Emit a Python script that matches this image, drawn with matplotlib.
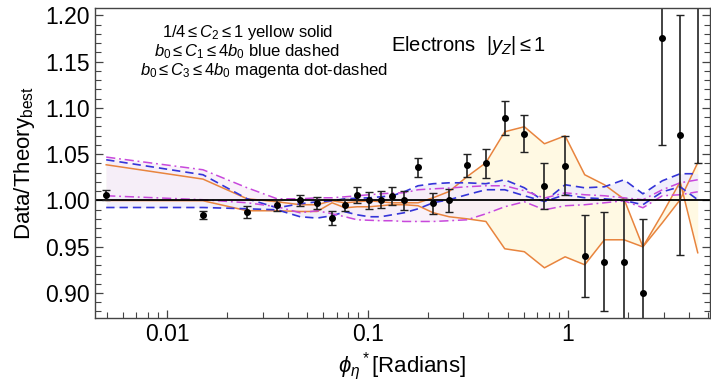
import numpy as np
import matplotlib.pyplot as plt
from matplotlib.ticker import FixedLocator, MultipleLocator, NullFormatter

plt.rcParams['font.family'] = ['Liberation Sans', 'DejaVu Sans']
plt.rcParams['mathtext.fontset'] = 'custom'
plt.rcParams['mathtext.rm'] = 'Liberation Sans'
plt.rcParams['mathtext.it'] = 'Liberation Sans:italic'

# bin centres (radians)
phi = [0.00497, 0.0151, 0.0251, 0.0354, 0.0461, 0.0560, 0.0665, 0.0772, 0.0887,
       0.1018, 0.1164, 0.1325, 0.152, 0.1786, 0.212, 0.255, 0.3126, 0.389, 0.483,
       0.605, 0.762, 0.966, 1.21, 1.517, 1.90, 2.36, 2.95, 3.62, 4.43]

# data / theory with errors
ratio = [1.006, 0.9845, 0.9875, 0.9946, 1.000, 0.997, 0.981, 0.995, 1.006,
         1.000, 1.001, 1.005, 1.000, 1.0357, 0.9968, 1.000, 1.038, 1.040, 1.089,
         1.072, 1.016, 1.0375, 0.940, 0.934, 0.934, 0.900, 1.1755, 1.071, 1.26]
err = [0.005, 0.0045, 0.006, 0.0055, 0.006, 0.0067, 0.008, 0.0063, 0.009,
       0.009, 0.0095, 0.0097, 0.0104, 0.0106, 0.011, 0.012, 0.0126, 0.0157, 0.018,
       0.020, 0.025, 0.032, 0.044, 0.053, 0.068, 0.080, 0.115, 0.13, 0.22]

# C2 variation (yellow solid)
c2_a = [1.0386, 1.0231, 1.0018, 0.9986, 0.9954, 0.9954, 0.9997, 0.9975, 0.9986,
        0.9997, 0.9986, 0.9975, 0.9975, 0.9975, 1.0029, 1.0097, 1.0256, 1.0408, 1.0743,
        1.0797, 1.0613, 1.0699, 1.0278, 1.0170, 1.0015, 0.9499, 0.9856, 1.0202, 0.9435]
c2_b = [1.000, 0.9997, 0.9889, 0.9889, 0.9881, 0.9881, 0.9975, 0.9921, 0.9932,
        0.9932, 0.9943, 0.9954, 0.9954, 0.9943, 0.9868, 0.9824, 0.9802, 0.9773, 0.9478,
        0.9446, 0.9272, 0.9391, 0.9305, 0.9575, 0.9575, 0.9499, 0.9759, 1.0008, 1.0408]

# C1 variation (blue dashed)
c1_a = [1.0440, 1.0278, 1.0018, 0.9921, 0.9964, 0.9986, 0.9997, 1.0018, 1.0024,
        1.0029, 1.0040, 1.0051, 1.0094, 1.0159, 1.0181, 1.0191, 1.0191, 1.0181, 1.0224,
        1.0137, 0.9989, 1.0170, 1.0137, 1.0148, 1.0224, 1.0072, 1.0213, 1.0289, 1.0289]
c1_b = [0.9924, 0.9924, 0.9910, 0.9899, 0.9824, 0.9810, 0.9835, 0.9878, 0.9845,
        0.9824, 0.9824, 0.9845, 0.9867, 0.9910, 0.9975, 1.0008, 1.0062, 1.0116, 1.0116,
        1.0051, 0.9989, 1.0062, 1.0029, 1.0018, 1.0000, 0.9954, 1.0094, 1.0148, 1.0008]

# C3 variation (magenta dot-dashed)
c3_a = [1.0469, 1.0332, 1.0137, 1.0018, 1.0018, 1.0029, 1.0029, 1.0040, 1.0051,
        1.0062, 1.0072, 1.0080, 1.0083, 1.0116, 1.0126, 1.0134, 1.0148, 1.0159, 1.0159,
        1.0105, 1.0026, 1.0083, 1.0062, 1.0051, 1.0029, 1.0008, 1.0116, 1.0191, 1.0224]
c3_b = [1.0051, 1.0008, 0.9975, 0.9932, 0.9867, 0.9889, 0.9856, 0.9824, 0.9791,
        0.9786, 0.9781, 0.9781, 0.9773, 0.9773, 0.9773, 0.9781, 0.9791, 0.9856, 0.9932,
        0.9986, 0.9899, 0.9943, 0.9954, 0.9975, 0.9997, 0.9921, 1.0051, 1.0062, 1.0094]

fig = plt.figure(figsize=(7.11, 3.84), dpi=100)
ax = fig.add_axes([0.1336, 0.172, 0.865, 0.807])

orange = '#e8843e'
blue = '#3434d8'
magenta = '#c848dc'

# yellow band first, the others painted over it
ax.fill_between(phi, c2_a, c2_b, color='#fff8dc', alpha=0.8, lw=0)
ax.fill_between(phi, c1_a, c1_b, color='#f0eefb', alpha=0.9, lw=0)
ax.fill_between(phi, c3_a, c3_b, color='#f8eef8', alpha=0.8, lw=0)

ax.plot(phi, c2_a, color=orange, lw=1.1)
ax.plot(phi, c2_b, color=orange, lw=1.1)
ax.plot(phi, c1_a, color=blue, lw=1.2, dashes=(5, 3))
ax.plot(phi, c1_b, color=blue, lw=1.2, dashes=(5, 3))
ax.plot(phi, c3_a, color=magenta, lw=1.1, dashes=(6, 2.5, 1.2, 2.5))
ax.plot(phi, c3_b, color=magenta, lw=1.1, dashes=(6, 2.5, 1.2, 2.5))

ax.axhline(1.0, color='black', lw=1.3)

ax.errorbar(phi, ratio, yerr=err, fmt='o', color='black', ecolor='#222222',
            ms=4, elinewidth=1.2, capsize=3, capthick=1.0)

ax.set_xscale('log')
ax.set_xlim(0.00437, 5.1)
ax.set_ylim(0.873, 1.208)

ax.xaxis.set_major_locator(FixedLocator([0.01, 0.1, 1]))
ax.set_xticklabels(['0.01', '0.1', '1'])
minors = [m * 10.0 ** e for e in range(-3, 1) for m in range(2, 10)]
ax.xaxis.set_minor_locator(FixedLocator(minors))
ax.xaxis.set_minor_formatter(NullFormatter())
ax.yaxis.set_major_locator(MultipleLocator(0.05))
ax.yaxis.set_minor_locator(MultipleLocator(0.01))
ax.yaxis.set_major_formatter(plt.FuncFormatter(lambda v, p: '%.2f' % v))

ax.tick_params(which='both', direction='in', right=True, top=False, labelsize=16.5, color='#444444')
ax.tick_params(which='major', length=6, width=0.9)
ax.tick_params(which='minor', length=4, width=0.8)
for s in ax.spines.values():
    s.set_color('#444444')
    s.set_linewidth(1.0)

ax.set_ylabel(r'Data/Theory$_{\rm best}$', fontsize=16, labelpad=6)
ax.set_xlabel(r'$\phi_\eta{}^*$[Radians]', fontsize=16, labelpad=3)

ax.text(0.248, 0.92, r'1/4$\leq$$C_2$$\leq$1 yellow solid', transform=ax.transAxes,
        ha='center', va='center', fontsize=12)
ax.text(0.248, 0.86, r'$b_0$$\leq$$C_1$$\leq$4$b_0$ blue dashed', transform=ax.transAxes,
        ha='center', va='center', fontsize=12)
ax.text(0.275, 0.80, r'$b_0$$\leq$$C_3$$\leq$4$b_0$ magenta dot-dashed', transform=ax.transAxes,
        ha='center', va='center', fontsize=12)
ax.text(0.607, 0.88, r'Electrons  |$y_Z$|$\leq$1', transform=ax.transAxes,
        ha='center', va='center', fontsize=14.5)

fig.savefig('out.png', dpi=100)
